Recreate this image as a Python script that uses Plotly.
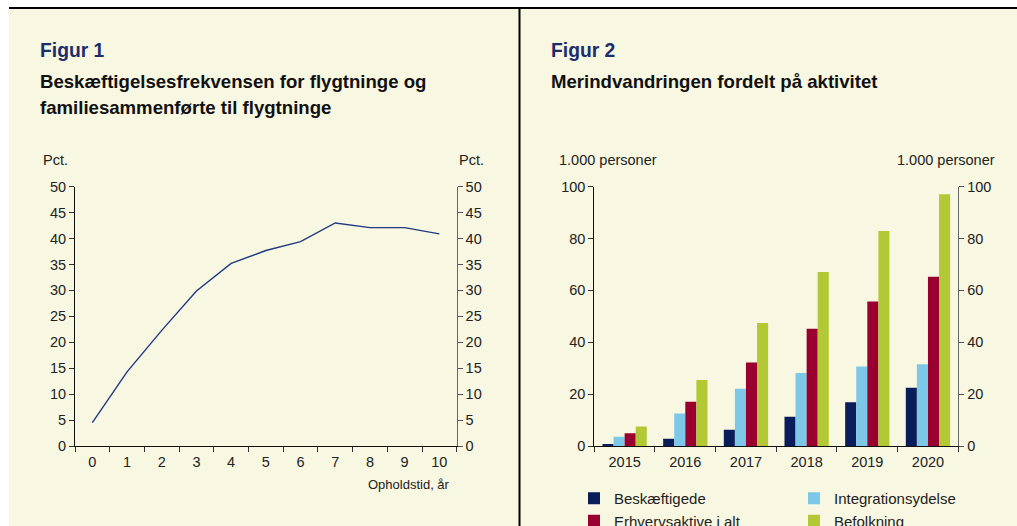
import plotly.graph_objects as go

# ---------- data ----------
stay_years = ["0", "1", "2", "3", "4", "5", "6", "7", "8", "9", "10"]
employment_rate = [4.5, 14.3, 22.3, 29.9, 35.2, 37.7, 39.4, 43.0, 42.1, 42.1, 40.9]

years = ["2015", "2016", "2017", "2018", "2019", "2020"]
beskaeftigede = [0.8, 2.8, 6.3, 11.3, 16.9, 22.5]
integrationsydelse = [3.6, 12.5, 22.1, 28.2, 30.7, 31.5]
erhvervsaktive = [4.9, 17.1, 32.2, 45.2, 55.7, 65.3]
befolkning = [7.5, 25.5, 47.4, 67.1, 82.9, 97.1]

pct_ticks = [0, 5, 10, 15, 20, 25, 30, 35, 40, 45, 50]
pers_ticks = [0, 20, 40, 60, 80, 100]

# ---------- layout helpers (screen pixels -> paper fractions) ----------
W, H = 1017, 526
def px(x):
    return x / W
def py(y):
    return 1 - y / H

CREAM = "#F8F7E1"
NAVY_T = "#1B2E6B"
FONT = "Liberation Sans, Arial, sans-serif"
TXT = "#222222"
TS = 14.5

fig = go.Figure()

fig.add_trace(go.Scatter(x=stay_years, y=employment_rate, mode="lines",
                         line=dict(color="#1F3A82", width=1.4),
                         xaxis="x", yaxis="y", showlegend=False))
# invisible trace to activate right axis of figure 1
fig.add_trace(go.Scatter(x=stay_years, y=employment_rate, mode="lines",
                         line=dict(width=0), opacity=0, hoverinfo="skip",
                         xaxis="x", yaxis="y2", showlegend=False))

series = [("Beskæftigede", beskaeftigede, "#0A1C5A", "legend"),
          ("Integrationsydelse", integrationsydelse, "#7DC8E8", "legend2"),
          ("Erhvervsaktive i alt", erhvervsaktive, "#990030", "legend"),
          ("Befolkning", befolkning, "#B2C935", "legend2")]
for name, vals, col, leg in series:
    fig.add_trace(go.Bar(x=years, y=vals, name=name, marker=dict(color=col, line=dict(width=0)),
                         xaxis="x2", yaxis="y3", legend=leg))
fig.add_trace(go.Bar(x=years, y=befolkning, xaxis="x2", yaxis="y4", opacity=0,
                     showlegend=False, hoverinfo="skip"))

tickfont = dict(family=FONT, size=TS, color=TXT)
ydom = [py(446), py(186.7)]

common_y = dict(showgrid=False, zeroline=False, ticks="outside", ticklen=5, tickwidth=1,
                tickfont=tickfont, showline=True, linewidth=1, automargin=False)
common_x = dict(type="category", tickson="boundaries", ticks="outside", ticklen=5, tickwidth=1,
                tickcolor="#333", showline=True, linecolor="#111", linewidth=1,
                showgrid=False, tickfont=tickfont, ticklabelstandoff=3, automargin=False)

leg_common = dict(orientation="v", xanchor="left", yanchor="top",
                  bgcolor="rgba(0,0,0,0)", font=dict(family=FONT, size=15, color=TXT),
                  traceorder="normal", itemclick=False, borderwidth=0, tracegroupgap=0)

fig.update_layout(
    width=W, height=H,
    margin=dict(l=0, r=0, t=0, b=0, pad=0, autoexpand=False),
    paper_bgcolor="white", plot_bgcolor="rgba(0,0,0,0)",
    font=dict(family=FONT, color=TXT),
    barmode="group", bargap=0.27, bargroupgap=0.0,
    xaxis=dict(domain=[px(75), px(456.7)], anchor="y", range=[-0.5, 10.5], **common_x),
    yaxis=dict(domain=ydom, range=[0, 50], tickvals=pct_ticks, linecolor="#111",
               tickcolor="#333", anchor="x", **common_y),
    yaxis2=dict(domain=ydom, range=[0, 50], tickvals=pct_ticks, overlaying="y", side="right",
                anchor="x", linecolor="#666", tickcolor="#555", **common_y),
    xaxis2=dict(domain=[px(594.3), px(958.3)], anchor="y3", range=[-0.5, 5.5], **common_x),
    yaxis3=dict(domain=ydom, range=[0, 100], tickvals=pers_ticks, linecolor="#111",
                tickcolor="#333", anchor="x2", **common_y),
    yaxis4=dict(domain=ydom, range=[0, 100], tickvals=pers_ticks, overlaying="y3", side="right",
                anchor="x2", linecolor="#666", tickcolor="#555", **common_y),
    legend=dict(x=px(574), y=py(482), **leg_common),
    legend2=dict(x=px(794), y=py(482), **leg_common),
)

def ann(text, x, y, xanchor="left", size=TS, color=TXT, bold=False):
    if bold:
        text = "<b>" + text + "</b>"
    fig.add_annotation(text=text, x=px(x), y=py(y), xref="paper", yref="paper",
                       xanchor=xanchor, yanchor="middle", showarrow=False,
                       font=dict(family=FONT, size=size, color=color))

ann("Figur 1", 38, 50, size=19.3, color=NAVY_T, bold=True)
ann("Beskæftigelsesfrekvensen for flygtninge og", 38, 81, size=18.6, color="#111", bold=True)
ann("familiesammenførte til flygtninge", 38, 107, size=18.6, color="#111", bold=True)
ann("Figur 2", 549, 50, size=19.3, color=NAVY_T, bold=True)
ann("Merindvandringen fordelt på aktivitet", 549, 81, size=18.6, color="#111", bold=True)

ann("Pct.", 69.5, 160, xanchor="right")
ann("Pct.", 486, 160, xanchor="right")
ann("Opholdstid, år", 452, 484, xanchor="right", size=13)
ann("1.000 personer", 556.7, 160)
ann("1.000 personer", 996.7, 160, xanchor="right")

# cream panel and frame lines
fig.add_shape(type="rect", xref="paper", yref="paper", x0=px(9), x1=1, y0=0, y1=py(8),
              fillcolor=CREAM, line=dict(width=0), layer="below")
fig.add_shape(type="line", xref="paper", yref="paper", x0=px(9), x1=1, y0=py(8), y1=py(8),
              line=dict(color="#000", width=2))
fig.add_shape(type="line", xref="paper", yref="paper", x0=px(519.5), x1=px(519.5),
              y0=0, y1=py(8), line=dict(color="#000", width=2))

fig.write_html("out.html",
               config={"displayModeBar": False},
               post_script="document.body.style.margin='0';"
                           "document.documentElement.style.overflow='hidden';"
                           "document.body.style.overflow='hidden';")
